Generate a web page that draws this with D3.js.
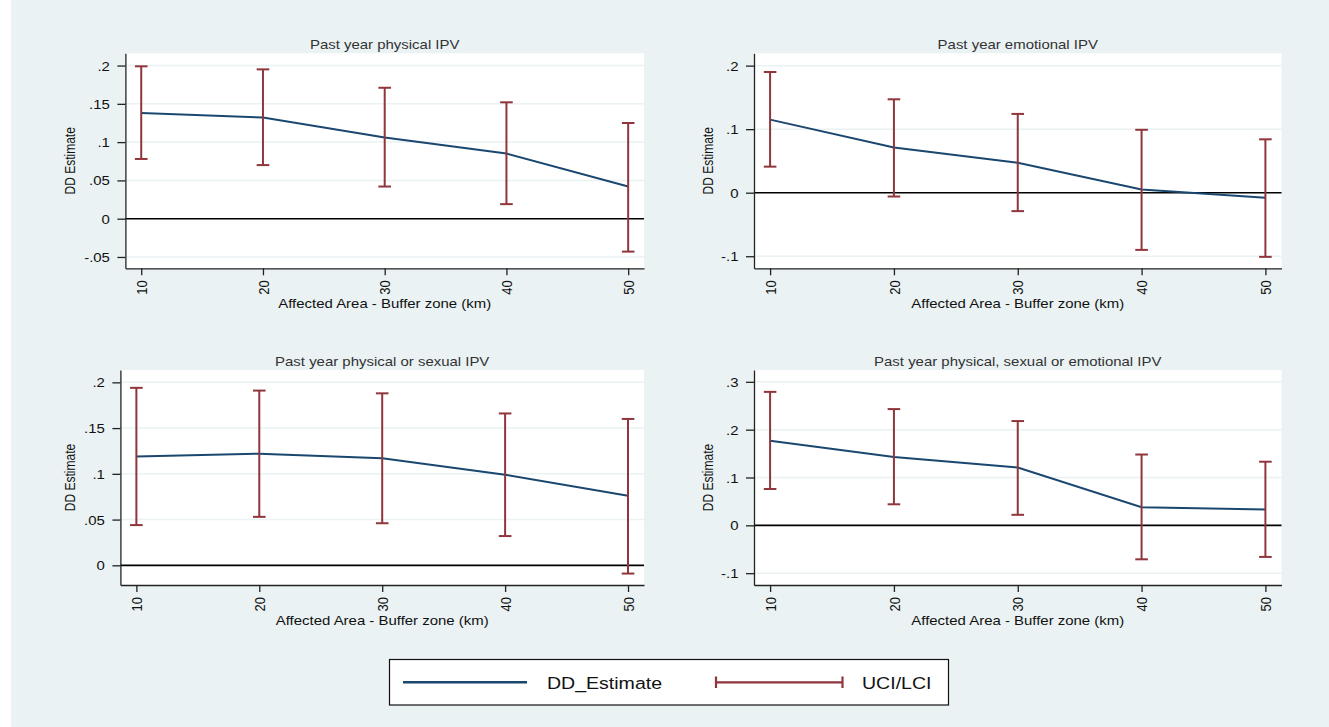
<!DOCTYPE html>
<html>
<head>
<meta charset="utf-8">
<script src="https://cdn.jsdelivr.net/npm/d3@7"></script>
<style>
  body { margin: 0; background: #fff; }
  svg { display: block; }
  text { font-family: "Liberation Sans", Arial, sans-serif; fill: #111; }
</style>
</head>
<body>
<div id="chart"></div>
<script>
(function(){

  // Buffer zones (km) on the x axis
  const buffers = [10, 20, 30, 40, 50];

  const panelTitles = [
    "Past year physical IPV",
    "Past year emotional IPV",
    "Past year physical or sexual IPV",
    "Past year physical, sexual or emotional IPV"
  ];

  // DD estimates with upper / lower confidence limits
  const estPhysical  = [0.138, 0.132, 0.106, 0.085, 0.042];
  const uciPhysical  = [0.199, 0.195, 0.171, 0.152, 0.125];
  const lciPhysical  = [0.078, 0.070, 0.042, 0.019, -0.043];

  const estEmotional = [0.115, 0.071, 0.047, 0.005, -0.008];
  const uciEmotional = [0.190, 0.147, 0.124, 0.099, 0.084];
  const lciEmotional = [0.041, -0.006, -0.029, -0.090, -0.101];

  const estPhysSex   = [0.119, 0.122, 0.117, 0.099, 0.076];
  const uciPhysSex   = [0.194, 0.191, 0.188, 0.166, 0.160];
  const lciPhysSex   = [0.044, 0.053, 0.046, 0.032, -0.009];

  const estAny       = [0.177, 0.143, 0.121, 0.038, 0.033];
  const uciAny       = [0.279, 0.243, 0.218, 0.148, 0.133];
  const lciAny       = [0.076, 0.044, 0.022, -0.071, -0.066];

  // y tick labels and y axis extents per panel
  const yTicksPhysical  = [-0.05, 0, 0.05, 0.1, 0.15, 0.2];
  const yTicksEmotional = [-0.1, 0, 0.1, 0.2];
  const yTicksPhysSex   = [0, 0.05, 0.1, 0.15, 0.2];
  const yTicksAny       = [-0.1, 0, 0.1, 0.2, 0.3];

  const yExtentPhysical  = [-0.0648, 0.216];
  const yExtentEmotional = [-0.119, 0.2194];
  const yExtentPhysSex   = [-0.0215, 0.2135];
  const yExtentAny       = [-0.1247, 0.3247];
  const xExtent = [8.7, 51.3];

  const xTitle = "Affected Area - Buffer zone (km)";
  const yTitle = "DD Estimate";
  const legendLabels = ["DD_Estimate", "UCI/LCI"];

  const panels = [
    { title: panelTitles[0], est: estPhysical,  uci: uciPhysical,  lci: lciPhysical,  ticks: yTicksPhysical,  ext: yExtentPhysical },
    { title: panelTitles[1], est: estEmotional, uci: uciEmotional, lci: lciEmotional, ticks: yTicksEmotional, ext: yExtentEmotional },
    { title: panelTitles[2], est: estPhysSex,   uci: uciPhysSex,   lci: lciPhysSex,   ticks: yTicksPhysSex,   ext: yExtentPhysSex },
    { title: panelTitles[3], est: estAny,       uci: uciAny,       lci: lciAny,       ticks: yTicksAny,       ext: yExtentAny }
  ];

  // plot regions (pixels)
  const boxes = [
    { left: 125.4, right: 644,    top: 53.3, bottom: 268.3, ytx: 75 },
    { left: 754,   right: 1281.5, top: 53.3, bottom: 268.3, ytx: 713 },
    { left: 120.4, right: 644,    top: 370,  bottom: 585,   ytx: 75 },
    { left: 754,   right: 1281.5, top: 370,  bottom: 585,   ytx: 713 }
  ];

  const width = 1329, height = 727;
  const SX = 1.15; // the original text is a bit wide
  const navy = "#1a476f", maroon = "#90353b", bg = "#eaf2f3";
  const fmt = d => d === 0 ? "0" : String(d).replace("0.", ".");

  const svg = d3.select("#chart").append("svg")
      .attr("width", width)
      .attr("height", height);

  svg.append("rect")
      .attr("x", 11).attr("y", 0)
      .attr("width", width - 11).attr("height", height)
      .attr("fill", bg);

  panels.forEach((p, i) => {
    const b = boxes[i];
    const x = d3.scaleLinear().domain(xExtent).range([b.left, b.right]);
    const y = d3.scaleLinear().domain(p.ext).range([b.bottom, b.top]);
    const g = svg.append("g");

    g.append("rect")
        .attr("x", b.left).attr("y", b.top)
        .attr("width", b.right - b.left).attr("height", b.bottom - b.top)
        .attr("fill", "#fff");

    // gridlines
    g.selectAll(".grid")
      .data(p.ticks.filter(t => t !== 0))
      .enter().append("line")
        .attr("x1", b.left).attr("x2", b.right)
        .attr("y1", d => y(d)).attr("y2", d => y(d))
        .attr("stroke", bg)
        .attr("stroke-width", 1.5);

    // zero line
    g.append("line")
        .attr("x1", b.left).attr("x2", b.right)
        .attr("y1", y(0)).attr("y2", y(0))
        .attr("stroke", "#000")
        .attr("stroke-width", 1.6);

    // y axis
    const ya = g.append("g")
        .attr("transform", `translate(${b.left},0)`)
        .call(d3.axisLeft(y).tickValues(p.ticks).tickFormat(fmt).tickSize(8).tickSizeOuter(0));
    ya.attr("font-size", null).attr("font-family", null);
    ya.selectAll("path, line").attr("stroke", "#222").attr("stroke-width", 1.3);
    ya.selectAll(".tick text")
        .attr("x", null).attr("dy", "0.35em")
        .attr("transform", `translate(-15.5,0) scale(${SX},1)`)
        .style("font-size", "13px");

    // x axis
    const xa = g.append("g")
        .attr("transform", `translate(0,${b.bottom})`)
        .call(d3.axisBottom(x).tickValues(buffers).tickSize(7).tickSizeOuter(0));
    xa.attr("font-size", null).attr("font-family", null);
    xa.selectAll("path, line").attr("stroke", "#222").attr("stroke-width", 1.3);
    xa.selectAll(".tick text")
        .attr("y", null).attr("dy", "0.35em")
        .attr("text-anchor", "end")
        .attr("transform", `translate(0,12) scale(${SX},1) rotate(-90)`)
        .style("font-size", "13px");

    // estimate line
    g.append("path")
        .datum(buffers.map((k, j) => [k, p.est[j]]))
        .attr("fill", "none")
        .attr("stroke", navy)
        .attr("stroke-width", 2)
        .attr("d", d3.line().x(d => x(d[0])).y(d => y(d[1])));

    // confidence intervals (range caps)
    const bars = g.selectAll(".ci")
      .data(buffers.map((k, j) => ({ k, u: p.uci[j], l: p.lci[j] })))
      .enter().append("g")
        .attr("stroke", maroon)
        .attr("stroke-width", 2);
    bars.append("line")
        .attr("x1", d => x(d.k)).attr("x2", d => x(d.k))
        .attr("y1", d => y(d.u)).attr("y2", d => y(d.l));
    bars.append("line")
        .attr("x1", d => x(d.k) - 6.3).attr("x2", d => x(d.k) + 6.3)
        .attr("y1", d => y(d.u)).attr("y2", d => y(d.u));
    bars.append("line")
        .attr("x1", d => x(d.k) - 6.3).attr("x2", d => x(d.k) + 6.3)
        .attr("y1", d => y(d.l)).attr("y2", d => y(d.l));

    const cx = (b.left + b.right) / 2;
    g.append("text")
        .attr("transform", `translate(${cx},${b.top - 4.5}) scale(${SX},1)`)
        .attr("text-anchor", "middle")
        .style("font-size", "13px")
        .style("fill", "#333")
        .text(p.title);

    g.append("text")
        .attr("transform", `translate(${cx},${b.bottom + 40}) scale(${SX},1)`)
        .attr("text-anchor", "middle")
        .style("font-size", "13px")
        .text(xTitle);

    g.append("text")
        .attr("transform", `translate(${b.ytx},${(b.top + b.bottom) / 2}) scale(${SX},1) rotate(-90)`)
        .attr("text-anchor", "middle")
        .style("font-size", "12px")
        .text(yTitle);
  });

  // legend
  const lg = svg.append("g");
  lg.append("rect")
      .attr("x", 389.5).attr("y", 659.5)
      .attr("width", 559).attr("height", 45.5)
      .attr("fill", "#fff")
      .attr("stroke", "#111")
      .attr("stroke-width", 1.2);
  lg.append("line")
      .attr("x1", 403).attr("x2", 527).attr("y1", 682.3).attr("y2", 682.3)
      .attr("stroke", navy).attr("stroke-width", 2.5);
  lg.append("text")
      .attr("transform", `translate(547,688.5) scale(${SX},1)`)
      .style("font-size", "17px")
      .text(legendLabels[0]);
  const lc = lg.append("g").attr("stroke", maroon).attr("stroke-width", 2.2);
  lc.append("line").attr("x1", 716).attr("x2", 842.5).attr("y1", 682.3).attr("y2", 682.3);
  lc.append("line").attr("x1", 716).attr("x2", 716).attr("y1", 676.5).attr("y2", 688);
  lc.append("line").attr("x1", 842.5).attr("x2", 842.5).attr("y1", 676.5).attr("y2", 688);
  lg.append("text")
      .attr("transform", `translate(862,688.5) scale(${SX},1)`)
      .style("font-size", "17px")
      .text(legendLabels[1]);

})();
</script>
</body>
</html>
